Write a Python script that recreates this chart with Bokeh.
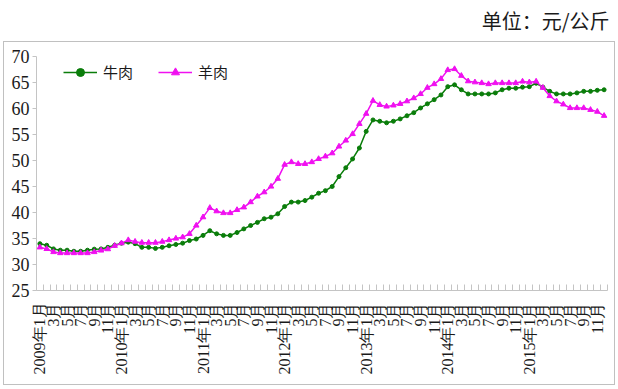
import math
from bokeh.plotting import figure
from bokeh.layouts import column
from bokeh.models import FixedTicker, Legend, LegendItem, Range1d
from bokeh.embed import file_html
from bokeh.resources import INLINE

# ---- data (monthly average price, 元/公斤) ----
years = [2009, 2010, 2011, 2012, 2013, 2014, 2015]
month_labels = []
for y in years:
    for m in range(1, 13):
        month_labels.append(f"{y}年{m}月" if m == 1 else f"{m}月")

beef = [34.0, 33.7, 33.0, 32.75, 32.75, 32.55, 32.55, 32.75, 32.95, 33.0, 33.3, 33.7,
        34.1, 34.3, 34.0, 33.3, 33.3, 33.1, 33.3, 33.6, 33.85, 34.1, 34.6, 34.9,
        35.6, 36.5, 35.9, 35.6, 35.6, 36.15, 36.85, 37.5, 38.1, 38.8, 39.1, 39.75,
        41.15, 42.0, 42.0, 42.3, 42.95, 43.7, 44.2, 45.0, 46.9, 48.6, 50.3, 52.4,
        55.6, 57.8, 57.55, 57.25, 57.55, 58.0, 58.6, 59.2, 60.1, 60.9, 61.7, 62.6,
        64.2, 64.55, 63.6, 62.8, 62.8, 62.8, 62.8, 63.0, 63.6, 63.9, 63.9, 64.1,
        64.2, 64.85, 64.1, 63.3, 62.8, 62.8, 62.8, 63.0, 63.3, 63.3, 63.5, 63.6]

mutton = [33.3, 33.0, 32.4, 32.2, 32.2, 32.2, 32.2, 32.2, 32.4, 32.7, 32.95, 33.6,
          34.1, 34.7, 34.4, 34.2, 34.2, 34.2, 34.4, 34.7, 35.0, 35.25, 35.9, 37.5,
          39.1, 40.9, 40.25, 39.9, 39.9, 40.5, 41.0, 42.0, 43.1, 43.9, 45.0, 46.5,
          49.2, 49.7, 49.35, 49.35, 49.7, 50.3, 50.8, 51.4, 52.7, 53.85, 55.1, 57.05,
          59.0, 61.5, 60.7, 60.4, 60.6, 60.9, 61.4, 62.0, 62.8, 64.0, 64.7, 65.7,
          67.4, 67.6, 66.3, 65.25, 65.05, 64.9, 64.7, 64.9, 64.9, 64.9, 64.9, 65.2,
          65.05, 65.2, 64.0, 62.4, 61.4, 60.8, 60.1, 60.1, 60.1, 59.75, 59.4, 58.6]

y_ticks = [25, 30, 35, 40, 45, 50, 55, 60, 65, 70]
series_names = ["牛肉", "羊肉"]
title_text = "单位：元/公斤"

x = list(range(len(month_labels)))

GREEN = "#0a7d0a"
MAGENTA = "#f010f0"
AXIS = "#c4c4c4"
SERIF = "serif"
CJK = "Noto Sans CJK SC"

# ---- title strip (outside the bordered chart) ----
pt = figure(width=618, height=41, output_backend="svg", toolbar_location=None,
            min_border_left=0, min_border_right=6, min_border_top=0, min_border_bottom=0)
pt.xaxis.visible = False
pt.yaxis.visible = False
pt.xgrid.visible = False
pt.ygrid.visible = False
pt.outline_line_color = None
pt.title.text = title_text
pt.title.align = "right"
pt.title.text_font = CJK
pt.title.text_font_size = "20px"
pt.title.text_font_style = "normal"
pt.title.text_color = "#1a1a1a"
pt.title.standoff = 6

# ---- main chart ----
p = figure(width=612, height=344, output_backend="svg", toolbar_location=None,
           x_range=Range1d(-0.5, len(x) - 0.5), y_range=Range1d(25, 70),
           min_border_left=32, min_border_right=9, min_border_top=14,
           min_border_bottom=96,
           styles={"border": "1px solid #c0c0c0", "margin-left": "3px"})
p.background_fill_color = "white"
p.border_fill_color = "white"
p.outline_line_color = None
p.xgrid.visible = False
p.ygrid.visible = False

l1 = p.line(x, beef, line_color=GREEN, line_width=1.5)
s1 = p.scatter(x, beef, marker="circle", size=4, fill_color=GREEN, line_color=GREEN)
l2 = p.line(x, mutton, line_color=MAGENTA, line_width=1.5)
s2 = p.scatter(x, mutton, marker="triangle", size=5.5, fill_color=MAGENTA, line_color=MAGENTA)

# y axis
ya = p.yaxis[0]
ya.ticker = FixedTicker(ticks=y_ticks, minor_ticks=[])
ya.axis_line_color = AXIS
ya.major_tick_line_color = AXIS
ya.major_tick_in = 0
ya.major_tick_out = 4
ya.minor_tick_line_color = None
ya.major_label_text_font = SERIF
ya.major_label_text_font_size = "18px"
ya.major_label_text_color = "#1a1a1a"
ya.major_label_standoff = 3

# x axis
xa = p.xaxis[0]
label_pos = [i for i in x if i % 2 == 0]
xa.ticker = FixedTicker(ticks=label_pos, minor_ticks=[i - 0.5 for i in range(len(x) + 1)])
xa.major_label_overrides = {i: month_labels[i] for i in label_pos}
xa.major_label_orientation = math.pi / 2
xa.axis_line_color = AXIS
xa.major_tick_line_color = None
xa.major_tick_in = 0
xa.major_tick_out = 0
xa.minor_tick_line_color = AXIS
xa.minor_tick_in = 6
xa.minor_tick_out = 0
xa.major_label_text_font = SERIF
xa.major_label_text_font_size = "16px"
xa.major_label_text_color = "#1a1a1a"
xa.major_label_standoff = 12

# legend
legend = Legend(items=[LegendItem(label=series_names[0], renderers=[l1, s1]),
                       LegendItem(label=series_names[1], renderers=[l2, s2])],
                orientation="horizontal", location=(27, 208),
                glyph_width=34, glyph_height=20, label_height=20,
                label_standoff=6, spacing=25, padding=0, margin=0,
                border_line_color=None, background_fill_alpha=0)
legend.label_text_font = CJK
legend.label_text_font_size = "15px"
legend.label_text_color = "#1a1a1a"
p.add_layout(legend)

layout = column(pt, p, spacing=0)
open("out.html", "w").write(file_html(layout, INLINE))
